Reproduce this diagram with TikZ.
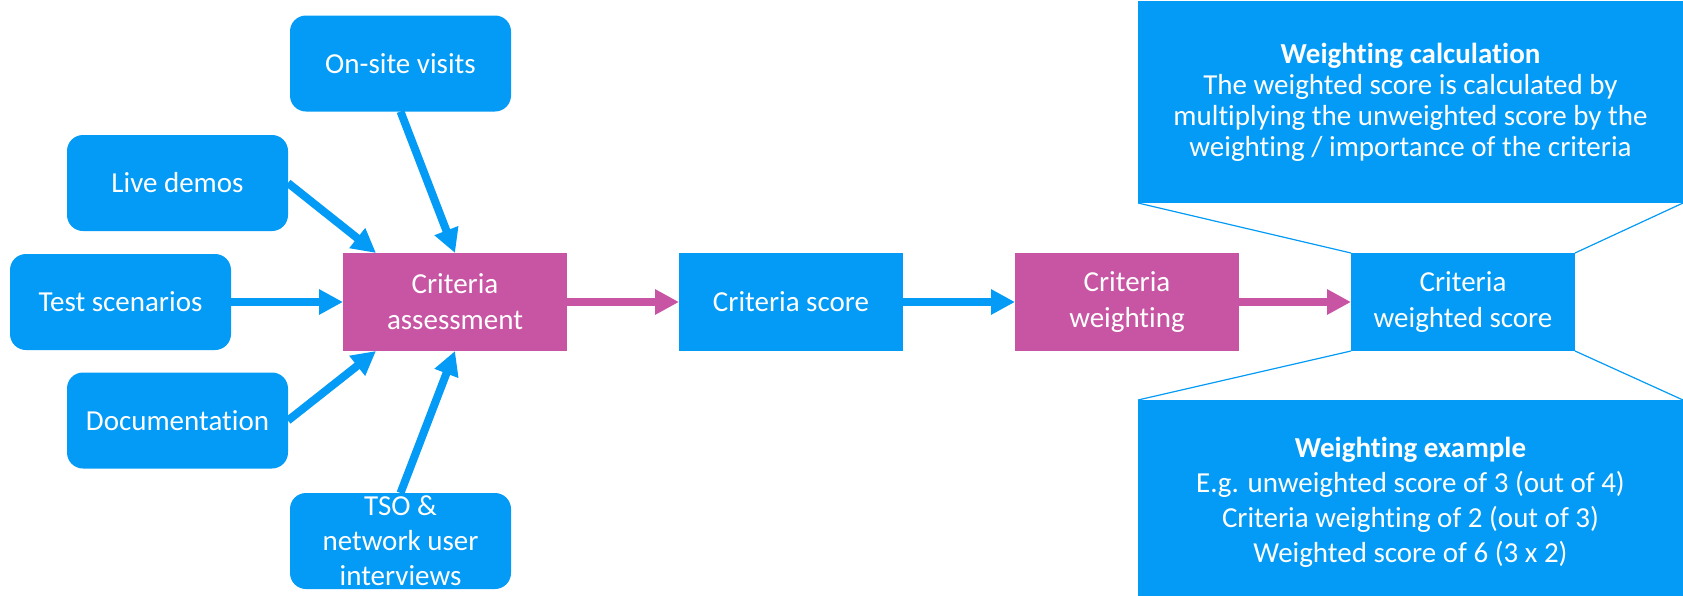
\documentclass[tikz,border=0pt]{standalone}
\usepackage{fontspec}
\setmainfont[Ligatures={NoCommon}]{Carlito}
\usetikzlibrary{positioning}
\usetikzlibrary{arrows.meta}
\definecolor{boxblue}{RGB}{3,155,246}
\definecolor{boxpink}{RGB}{200,85,163}

\begin{document}
\begin{tikzpicture}[x=0.5pt,y=-0.5pt,>={Triangle[length=12pt,width=12pt]},
	node distance=56pt,font=\fontsize{14.5}{18}\selectfont,
	source node/.style={rectangle,rounded corners=8pt,fill=boxblue,text=white,
		minimum width=110.5pt,minimum height=48pt,align=center,inner ysep=0pt,outer sep=0pt},
	step node/.style={rectangle,fill=boxpink,text=white,minimum width=112pt,
		minimum height=49pt,align=center,outer sep=0pt},
	score node/.style={step node,fill=boxblue},
	note node/.style={rectangle,fill=boxblue,text=white,minimum width=272.5pt,
		align=center,inner sep=0pt,outer sep=0pt},
	feed/.style={->,line width=4pt,boxblue},
	pass/.style={->,line width=4pt,boxpink},
	callout/.style={boxblue,line width=0.6pt}]
	
	\useasboundingbox (0,0) rectangle (1683,595);
	
	\node[step node] (ca) at (455,302) {Criteria\\assessment};
	\node[score node] (cs) [right=of ca] {Criteria score};
	\node[step node] (cw) [right=of cs] {Criteria\\weighting};
	\node[score node] (cws) [right=of cw] {Criteria\\weighted score};
	
	\node[source node] (ts) [left=of ca] {Test scenarios};
	\node[source node] (ld) at (177.5,183) {Live demos};
	\node[source node] (doc) at (177.5,420.5) {Documentation};
	\node[source node] (os) at (400.5,63.5) {On-site visits};
	\node[source node,font=\fontsize{14.5}{17.5}\selectfont] (tso) at (400.5,541) {TSO \&\\network user\\interviews};
	
	\node[note node,minimum height=101pt,font=\fontsize{14.5}{15.5}\selectfont] (calc) at (1410.5,102)
	{\textbf{Weighting calculation}\\The weighted score is calculated by\\multiplying the unweighted score by the\\weighting / importance of the criteria};
	\node[note node,minimum height=102.5pt,font=\fontsize{14.5}{17.5}\selectfont] (ex) at (1410.5,502.5)
	{\textbf{Weighting example}\\E.g. unweighted score of 3 (out of 4)\\Criteria weighting of 2 (out of 3)\\Weighted score of 6 (3 x 2)};
	
	\draw[feed] (ts) -- (ca);
	\draw[feed] (ld.east) -- ([xshift=16.5pt]ca.north west);
	\draw[feed] (os.south) -- (ca.north);
	\draw[feed] (doc.east) -- ([xshift=16.5pt]ca.south west);
	\draw[feed] (tso.north) -- (ca.south);
	\draw[pass] (ca) -- (cs);
	\draw[feed] (cs) -- (cw);
	\draw[pass] (cw) -- (cws);
	
	\draw[callout] (calc.south west) -- (cws.north west);
	\draw[callout] (calc.south east) -- (cws.north east);
	\draw[callout] (cws.south west) -- (ex.north west);
	\draw[callout] (cws.south east) -- (ex.north east);
\end{tikzpicture}
\end{document}
